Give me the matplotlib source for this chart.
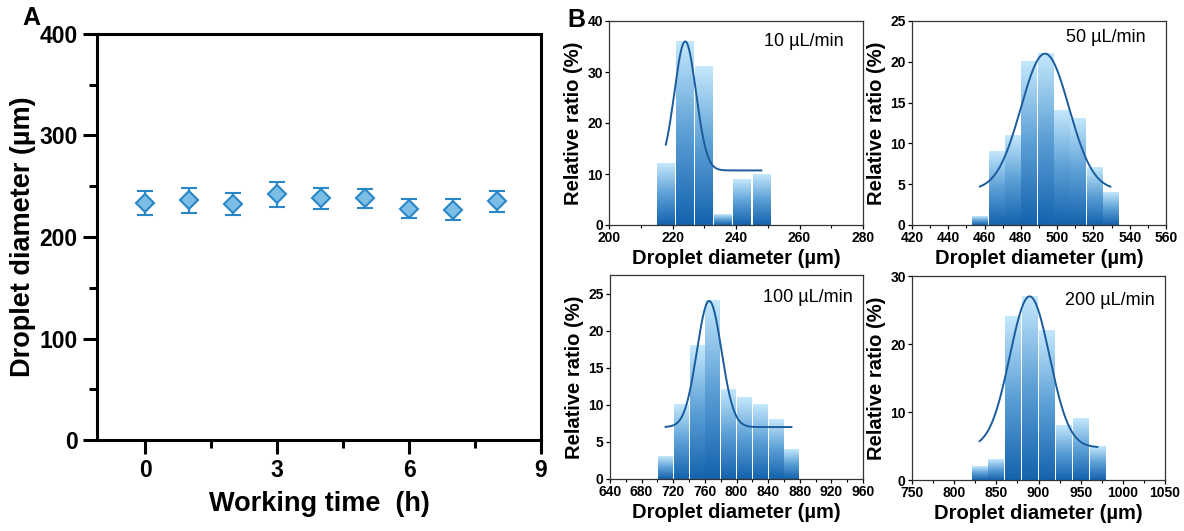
import numpy as np
import matplotlib.pyplot as plt
from matplotlib.colors import LinearSegmentedColormap
from matplotlib.ticker import MultipleLocator

plt.rcParams['font.family'] = ['Liberation Sans', 'DejaVu Sans']
plt.rcParams['font.weight'] = 'bold'

# Panel A: droplet diameter over working time
hours = [0, 1, 2, 3, 4, 5, 6, 7, 8]
diameter = [233.5, 236, 232.5, 242, 238, 238, 228, 227, 235]
diameter_err = [11.5, 12, 11, 12, 10, 9, 9.5, 10, 10.5]

# Panel B: size distributions at four flow rates
flow_labels = ['10 µL/min', '50 µL/min', '100 µL/min', '200 µL/min']
bin_starts = [215, 453, 700, 820]
bin_widths = [6, 9, 20, 20]
ratio_10 = [12, 36, 31, 2, 9, 10]
ratio_50 = [1, 9, 11, 20, 21, 14, 13, 7, 4]
ratio_100 = [3, 10, 18, 24, 12, 11, 10, 8, 4]
ratio_200 = [2, 3, 24, 27, 22, 8, 9, 5]
ratios = [ratio_10, ratio_50, ratio_100, ratio_200]

# Gaussian fit: offset y0, amplitude, centre, sigma, x range
fit_y0 = [10.7, 4.3, 7.0, 4.8]
fit_amp = [25.3, 16.7, 17.0, 22.2]
fit_xc = [224, 493.3, 765.5, 889.5]
fit_sigma = [3.4, 13.2, 15.5, 23.5]
fit_xrange = [(217.9, 248), (457.4, 529.3), (710.3, 869.5), (830.2, 969.8)]

xlims = [(200, 280), (420, 560), (640, 960), (750, 1050)]
xsteps = [20, 20, 40, 50]
ylims = [(0, 40), (0, 25), (0, 27.5), (0, 30)]
ysteps = [10, 5, 5, 10]

W, H = 1184, 531
fig = plt.figure(figsize=(W / 100, H / 100), dpi=100)


def box(l, t, r, b):
    return [l / W, 1 - b / H, (r - l) / W, (b - t) / H]


# ---- panel A ----
axA = fig.add_axes(box(97, 34, 541, 440))
axA.errorbar(hours, diameter, yerr=diameter_err, fmt='D', ms=9,
             mfc='#7cbde6', mec='#2a87c6', mew=1.5, ecolor='#2a87c6',
             elinewidth=1.6, capsize=6, capthick=1.6)
axA.set_xlim(-1.1, 9)
axA.set_ylim(0, 400)
axA.xaxis.set_major_locator(MultipleLocator(3))
axA.xaxis.set_minor_locator(MultipleLocator(1.5))
axA.yaxis.set_major_locator(MultipleLocator(100))
axA.yaxis.set_minor_locator(MultipleLocator(50))
for s in axA.spines.values():
    s.set_linewidth(2.2)
axA.tick_params(which='major', length=10, width=2.2, labelsize=16.5, pad=4)
axA.tick_params(which='minor', length=6, width=2.2)
axA.set_xlabel('Working time  (h)', fontsize=19.5, fontweight='bold', labelpad=6)
axA.set_ylabel('Droplet diameter (µm)', fontsize=19.5, fontweight='bold', labelpad=2)
fig.text(22 / W, 1 - 6 / H, 'A', fontsize=18, fontweight='bold', va='top')

# ---- panel B ----
cmap = LinearSegmentedColormap.from_list('bluegrad', ['#1463ae', '#5b9fd6', '#c4e8fc'])
grad = np.linspace(0, 1, 256).reshape(-1, 1)
boxes = [box(609, 21, 863, 225), box(912, 21, 1166, 225),
         box(610, 275, 863, 479), box(912, 276, 1165, 480)]
text_pos = [(0.925, 0.9), (0.92, 0.92), (0.96, 0.89), (0.96, 0.88)]

for i in range(4):
    ax = fig.add_axes(boxes[i])
    x0, w = bin_starts[i], bin_widths[i]
    g = 0.035 * w
    lefts = [x0 + k * w for k in range(len(ratios[i]))]
    for l, h in zip(lefts, ratios[i]):
        ax.imshow(grad, extent=[l + g, l + w - g, 0, h], origin='lower', cmap=cmap,
                  aspect='auto', interpolation='bilinear', zorder=1)
    xf = np.linspace(fit_xrange[i][0], fit_xrange[i][1], 300)
    yf = fit_y0[i] + fit_amp[i] * np.exp(-(xf - fit_xc[i]) ** 2 / (2 * fit_sigma[i] ** 2))
    ax.plot(xf, yf, color='#1a5c9c', lw=1.4, zorder=3)
    ax.set_xlim(*xlims[i])
    ax.set_ylim(*ylims[i])
    ax.xaxis.set_major_locator(MultipleLocator(xsteps[i]))
    ax.xaxis.set_minor_locator(MultipleLocator(xsteps[i] / 2))
    ax.yaxis.set_major_locator(MultipleLocator(ysteps[i]))
    for s in ax.spines.values():
        s.set_linewidth(0.9)
        s.set_color('#333333')
    ax.tick_params(which='major', length=3, width=0.9, labelsize=10, pad=1.5)
    ax.tick_params(which='minor', length=1.8, width=0.8)
    ax.set_xlabel('Droplet diameter (µm)', fontsize=14.5, fontweight='bold', labelpad=3)
    ax.set_ylabel('Relative ratio (%)', fontsize=14.5, fontweight='bold', labelpad=3)
    ax.text(text_pos[i][0], text_pos[i][1], flow_labels[i], transform=ax.transAxes,
            ha='right', va='center', fontsize=13, fontweight='normal')

fig.text(567 / W, 1 - 8 / H, 'B', fontsize=18, fontweight='bold', va='top')

fig.savefig('out.png', dpi=100)
